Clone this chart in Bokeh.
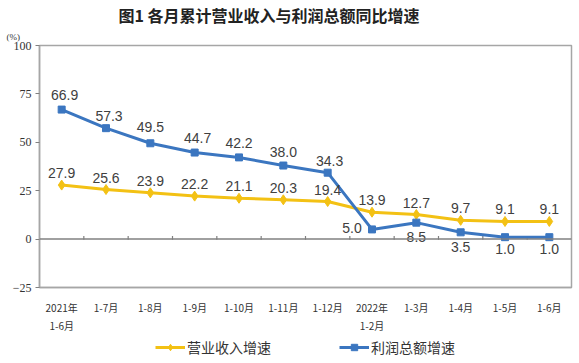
import numpy as np
from bokeh.plotting import figure
from bokeh.layouts import column
from bokeh.models import (Range1d, FixedTicker, Span, Title, Legend, LegendItem, ColumnDataSource)
from bokeh.core.properties import value
from bokeh.embed import file_html
from bokeh.resources import INLINE

categories = ["2021年\n1-6月", "1-7月", "1-8月", "1-9月", "1-10月", "1-11月", "1-12月",
              "2022年\n1-2月", "1-3月", "1-4月", "1-5月", "1-6月"]
revenue = [27.9, 25.6, 23.9, 22.2, 21.1, 20.3, 19.4, 13.9, 12.7, 9.7, 9.1, 9.1]
profit = [66.9, 57.3, 49.5, 44.7, 42.2, 38.0, 34.3, 5.0, 8.5, 3.5, 1.0, 1.0]
y_ticks = [-25, 0, 25, 50, 75, 100]

title_text = "图1  各月累计营业收入与利润总额同比增速"
unit_text = "(%)"
rev_name = "营业收入增速"
pro_name = "利润总额增速"

YELLOW = "#F3C114"
BLUE = "#3B76C0"
CJK = "Noto Sans CJK SC"

x = np.arange(len(categories))

p = figure(width=579, height=335, output_backend="svg", toolbar_location=None,
           x_range=Range1d(-0.5, len(categories) - 0.5), y_range=Range1d(-25, 100),
           min_border_left=39, min_border_right=8, min_border_top=43, min_border_bottom=41)
p.grid.visible = False
p.outline_line_color = "#A6A6A6"
p.outline_line_width = 1.5
p.background_fill_color = "white"
p.border_fill_color = "white"

# axes
p.yaxis.ticker = FixedTicker(ticks=y_ticks)
p.yaxis.major_tick_out = 4
p.yaxis.major_tick_in = 0
p.yaxis.minor_tick_line_color = None
p.yaxis.axis_line_color = "#A6A6A6"
p.yaxis.axis_line_width = 1.5
p.yaxis.major_tick_line_color = "#808080"
p.yaxis.major_label_text_font = "Liberation Serif"
p.yaxis.major_label_text_font_size = "12px"
p.yaxis.major_label_text_color = "#333333"
p.yaxis.major_label_standoff = 4

p.xaxis.ticker = FixedTicker(ticks=list(x))
p.xaxis.major_label_overrides = {int(i): c for i, c in zip(x, categories)}
p.xaxis.major_tick_line_color = None
p.xaxis.minor_tick_line_color = None
p.xaxis.axis_line_color = "#A6A6A6"
p.xaxis.axis_line_width = 1.5
p.xaxis.major_label_text_font = CJK
p.xaxis.major_label_text_font_size = "10px"
p.xaxis.major_label_text_color = "#333333"
p.xaxis.major_label_standoff = 6

# zero line with category-boundary ticks
p.add_layout(Span(location=0, dimension="width", line_color="#808080", line_width=1.5))
bounds = x[:-1] + 0.5
p.segment(x0=bounds, y0=np.zeros(len(bounds)) - 0.3, x1=bounds, y1=np.zeros(len(bounds)) + 1.6,
          line_color="#808080", line_width=1.2)

# series
rl = p.line(x, revenue, line_color=YELLOW, line_width=3)
rs = p.scatter(x, revenue, marker="diamond", size=10, fill_color=YELLOW, line_color=YELLOW)
bl = p.line(x, profit, line_color=BLUE, line_width=3)
bs = p.scatter(x, profit, marker="square", size=7, fill_color=BLUE, line_color=BLUE)

# data labels
lab_font = value("Liberation Sans")
rev_src = ColumnDataSource(dict(x=x, y=revenue, t=[f"{v:.1f}" for v in revenue]))
p.text(x="x", y="y", text="t", source=rev_src, text_align="center", text_baseline="middle",
       y_offset=-12, text_font=lab_font, text_font_size="14px", text_color="#404040")

pro_xoff = [3, 3, 0, 3, 0, 0, 2, -20, 0, 0, 0, 0]
pro_yoff = [-15, -12, -16, -15, -14, -14, -12, -1, 14, 15, 12, 12]
pro_src = ColumnDataSource(dict(x=x, y=profit, t=[f"{v:.1f}" for v in profit],
                                xo=pro_xoff, yo=pro_yoff))
p.text(x="x", y="y", text="t", source=pro_src, text_align="center", text_baseline="middle",
       x_offset="xo", y_offset="yo", text_font=lab_font, text_font_size="14px", text_color="#404040")

# unit label (nearest the frame) and main title
p.add_layout(Title(text=unit_text, align="left", offset=-33, standoff=7,
                   text_font="Liberation Serif", text_font_size="9px",
                   text_font_style="normal", text_color="#333333"), "above")
p.add_layout(Title(text=title_text, align="left", offset=79, standoff=0,
                   text_font=CJK, text_font_style="bold", text_font_size="16px",
                   text_color="#222222"), "above")

# legend in its own small strip under the chart (series drawn out of view; only legend shows)
lg = figure(width=579, height=24, output_backend="svg", toolbar_location=None,
            x_range=Range1d(0, 1), y_range=Range1d(-1000, -999),
            min_border_left=0, min_border_right=0, min_border_top=0, min_border_bottom=0)
lg.axis.visible = False
lg.grid.visible = False
lg.outline_line_color = None
lg_rl = lg.line(x, revenue, line_color=YELLOW, line_width=3)
lg_rs = lg.scatter(x, revenue, marker="diamond", size=8, fill_color=YELLOW, line_color=YELLOW)
lg_bl = lg.line(x, profit, line_color=BLUE, line_width=3)
lg_bs = lg.scatter(x, profit, marker="square", size=6, fill_color=BLUE, line_color=BLUE)
legend = Legend(items=[LegendItem(label=rev_name, renderers=[lg_rl, lg_rs]),
                       LegendItem(label=pro_name, renderers=[lg_bl, lg_bs])],
                location="center", orientation="horizontal", border_line_color=None,
                background_fill_alpha=0, padding=0, margin=0, spacing=68,
                glyph_width=30, glyph_height=16, label_standoff=2,
                label_text_font=CJK, label_text_font_size="14px", label_text_color="#333333")
lg.add_layout(legend)

open("out.html", "w").write(file_html(column(p, lg), INLINE))
